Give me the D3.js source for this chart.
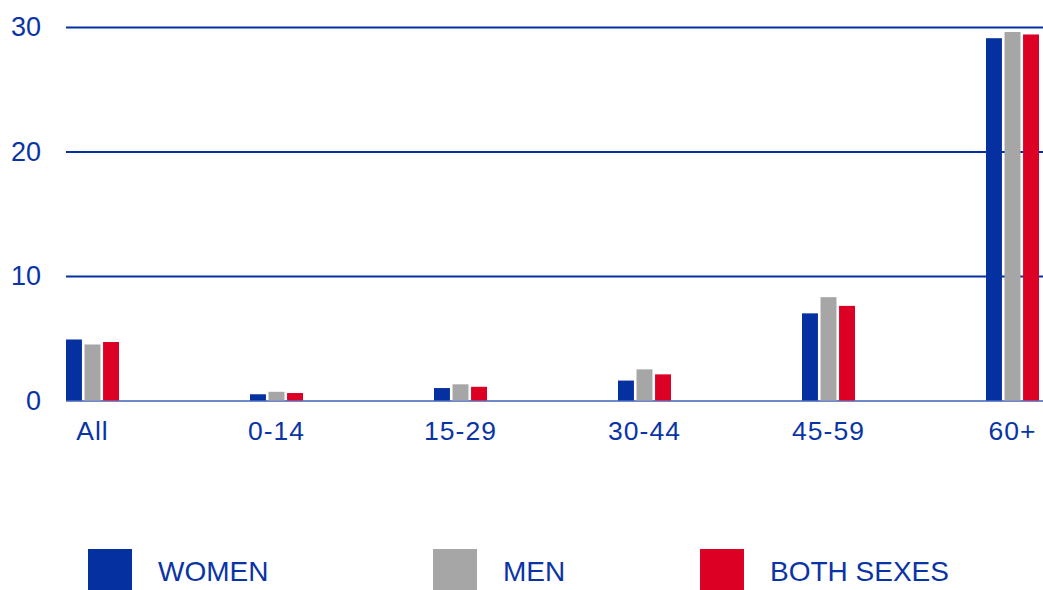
<!DOCTYPE html>
<html>
<head>
<meta charset="utf-8">
<script src="https://cdn.jsdelivr.net/npm/d3@7"></script>
<style>
    body { margin: 0; background: #fff; }
    text { font-family: "Liberation Sans", Arial, sans-serif; }
</style>
</head>
<body>
<div id="chart"></div>
<script>
// age groups
var categories = ["All", "0-14", "15-29", "30-44", "45-59", "60+"];
var seriesNames = ["WOMEN", "MEN", "BOTH SEXES"];
var women = [4.9, 0.5, 1.0, 1.6, 7.0, 29.1];
var men = [4.5, 0.7, 1.3, 2.5, 8.3, 29.6];
var both = [4.7, 0.6, 1.1, 2.1, 7.6, 29.4];
var yTicks = [0, 10, 20, 30];
var colors = ["#0530a0", "#a6a6a6", "#dc0024"];

groupedBars = function(_parentElement){
    this.parentElement = _parentElement;
    this.data = categories.map(function(c, i){
        return { cat: c, values: [women[i], men[i], both[i]] };
    });
    this.initVis();
}

groupedBars.prototype.initVis = function(){
    var vis = this;
    vis.margin = { top: 27, left: 66 };
    vis.svgWidth = 1043;
    vis.svgHeight = 590;
    vis.baseY = 400.5;

    vis.svg = d3.select("#" + vis.parentElement).append("svg")
        .attr("width", vis.svgWidth)
        .attr("height", vis.svgHeight);

    vis.y = d3.scaleLinear().domain([0, 30]).range([vis.baseY, vis.margin.top]);
    vis.x0 = d3.scalePoint().domain(categories).range([92.5, 1012.5]);
    vis.x1 = d3.scaleBand().domain([0, 1, 2]).range([-26.5, 26.5]).paddingInner(0.14);

    vis.updateVis();
}

groupedBars.prototype.updateVis = function(){
    var vis = this;

    // gridlines + y labels
    var yAxis = d3.axisLeft(vis.y)
        .tickValues(yTicks)
        .tickSize(-(vis.svgWidth - vis.margin.left))
        .tickPadding(25);

    var gy = vis.svg.append("g")
        .attr("transform", "translate(" + vis.margin.left + ",0)")
        .call(yAxis);
    gy.select(".domain").remove();
    gy.selectAll(".tick line")
        .attr("stroke", function(d){ return d === 0 ? "#6f88c8" : "#0530a0"; })
        .attr("stroke-width", 2);
    gy.selectAll(".tick text")
        .attr("fill", "#0a34a6")
        .attr("font-size", 27)
        .attr("font-family", "Liberation Sans, Arial, sans-serif");

    // bars
    var groups = vis.svg.selectAll(".grp")
        .data(vis.data)
        .enter().append("g")
        .attr("class", "grp")
        .attr("transform", function(d){ return "translate(" + vis.x0(d.cat) + ",0)"; });

    groups.selectAll("rect")
        .data(function(d){ return d.values; })
        .enter().append("rect")
        .attr("x", function(d, i){ return vis.x1(i); })
        .attr("width", vis.x1.bandwidth())
        .attr("y", function(d){ return vis.y(d); })
        .attr("height", function(d){ return vis.baseY - vis.y(d); })
        .attr("fill", function(d, i){ return colors[i]; });

    // x labels
    vis.svg.selectAll(".xlab")
        .data(categories)
        .enter().append("text")
        .attr("class", "xlab")
        .attr("x", function(d){ return vis.x0(d); })
        .attr("y", 440)
        .attr("text-anchor", "middle")
        .attr("font-size", 26.5)
        .attr("letter-spacing", 1)
        .attr("fill", "#0a34a6")
        .text(function(d){ return d; });

    // legend
    var legX = [88, 433, 700];
    var leg = vis.svg.selectAll(".leg")
        .data(seriesNames)
        .enter().append("g")
        .attr("class", "leg")
        .attr("transform", function(d, i){ return "translate(" + legX[i] + ",549)"; });

    leg.append("rect")
        .attr("width", 44)
        .attr("height", 41)
        .attr("fill", function(d, i){ return colors[i]; });

    leg.append("text")
        .attr("x", 70)
        .attr("y", 32)
        .attr("font-size", 28)
        .attr("fill", "#0a34a6")
        .text(function(d){ return d; });
}

var chart = new groupedBars("chart");
</script>
</body>
</html>
